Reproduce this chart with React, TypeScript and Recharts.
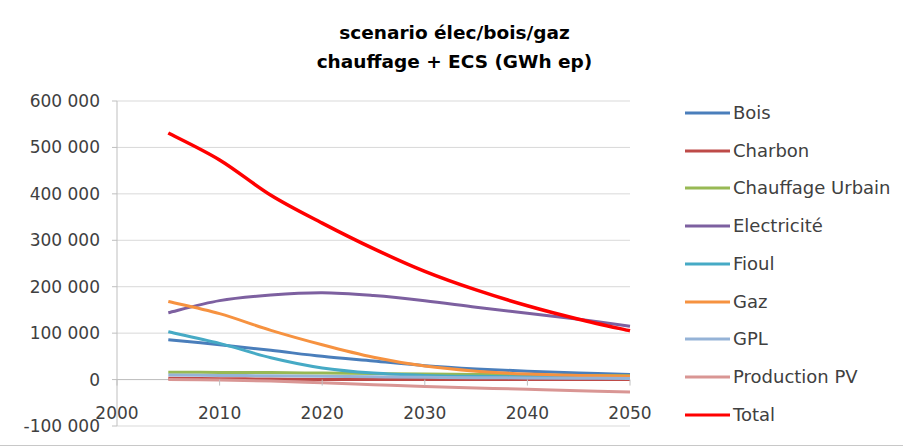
import React from "react";
import { LineChart, Line, XAxis, YAxis, CartesianGrid, ReferenceLine, Legend } from "recharts";

const years = [2005, 2010, 2015, 2020, 2025, 2030, 2035, 2040, 2045, 2050];
const bois = [86000, 75000, 63000, 50000, 40000, 30000, 23000, 18000, 14000, 11000];
const charbon = [3000, 2000, 1000, 0, 0, 0, 0, 0, 0, 0];
const chauffageUrbain = [16000, 15500, 15000, 14000, 13000, 12000, 11000, 10000, 9000, 8000];
const electricite = [144000, 170000, 182000, 187000, 181000, 170000, 156000, 143000, 130000, 115000];
const fioul = [103000, 78000, 47000, 25000, 14000, 9000, 7000, 6000, 5000, 4500];
const gaz = [168000, 142000, 106000, 75000, 48000, 29000, 18000, 12000, 9000, 7000];
const gpl = [10000, 9000, 8000, 7000, 6000, 5000, 4000, 3500, 3000, 2500];
const productionPV = [0, -1000, -3000, -7000, -11000, -15000, -18000, -21000, -24000, -27000];
const total = [531000, 473000, 397000, 337000, 282000, 233000, 193000, 159000, 130000, 105000];

const xTicks = [2000, 2010, 2020, 2030, 2040, 2050];
const yTicks = [-100000, 0, 100000, 200000, 300000, 400000, 500000, 600000];

const seriesDefs = [
  { key: "Bois", values: bois, color: "#4A7EBB" },
  { key: "Charbon", values: charbon, color: "#BE4B48" },
  { key: "Chauffage Urbain", values: chauffageUrbain, color: "#98B954" },
  { key: "Electricité", values: electricite, color: "#7D60A0" },
  { key: "Fioul", values: fioul, color: "#46AAC5" },
  { key: "Gaz", values: gaz, color: "#F69240" },
  { key: "GPL", values: gpl, color: "#95B3D7" },
  { key: "Production PV", values: productionPV, color: "#D99694" },
  { key: "Total", values: total, color: "#FF0000" },
];

const data = years.map((year, i) => {
  const row: Record<string, number> = { year };
  seriesDefs.forEach((s) => {
    row[s.key] = s.values[i];
  });
  return row;
});

const FONT = "'DejaVu Sans', sans-serif";
const W = 903;
const H = 448;
const M_TOP = 101;
const LEGEND_W = 218;
const M_RIGHT = 273 - LEGEND_W;
const M_BOTTOM = 21;
const X_AXIS_H = 1;
const PLOT_H = H - M_TOP - M_BOTTOM - X_AXIS_H;
const ZERO_OFFSET = PLOT_H / 7;

// Excel-like smoothed line (Catmull-Rom through the points)
const smoothCurve: any = (context: any) => {
  let pts: number[][] = [];
  return {
    areaStart() {},
    areaEnd() {},
    lineStart() {
      pts = [];
    },
    lineEnd() {
      if (!pts.length) return;
      context.moveTo(pts[0][0], pts[0][1]);
      for (let i = 0; i < pts.length - 1; i++) {
        const p0 = pts[Math.max(0, i - 1)];
        const p1 = pts[i];
        const p2 = pts[i + 1];
        const p3 = pts[Math.min(pts.length - 1, i + 2)];
        context.bezierCurveTo(
          p1[0] + (p2[0] - p0[0]) / 6,
          p1[1] + (p2[1] - p0[1]) / 6,
          p2[0] - (p3[0] - p1[0]) / 6,
          p2[1] - (p3[1] - p1[1]) / 6,
          p2[0],
          p2[1]
        );
      }
    },
    point(x: number, y: number) {
      pts.push([+x, +y]);
    },
  };
};

const fmt = (v: number) => {
  const s = Math.abs(v).toString().replace(/\B(?=(\d{3})+(?!\d))/g, " ");
  return (v < 0 ? "-" : "") + s;
};

const XTick = (props: any) => {
  const { x, y, payload } = props;
  const zeroY = y - ZERO_OFFSET;
  return (
    <g>
      <line x1={x} x2={x} y1={zeroY} y2={zeroY + 6} stroke="#bfbfbf" strokeWidth={1} />
      <text
        x={x}
        y={y - 13}
        textAnchor="middle"
        dominantBaseline="central"
        fontFamily={FONT}
        fontSize={17}
        fill="#404040"
      >
        {payload.value}
      </text>
    </g>
  );
};

const LegendContent = () => (
  <div style={{ fontFamily: FONT, fontSize: 18, color: "#404040", width: LEGEND_W }}>
    {seriesDefs.map((s) => (
      <div key={s.key} style={{ height: 37.75, display: "flex", alignItems: "center" }}>
        <svg width={48} height={6} style={{ display: "block" }}>
          <line x1={0} x2={45} y1={3} y2={3} stroke={s.color} strokeWidth={3} />
        </svg>
        <span style={{ whiteSpace: "nowrap", lineHeight: "20px" }}>{s.key}</span>
      </div>
    ))}
  </div>
);

export default function App() {
  return (
    <div style={{ position: "absolute", left: 0, top: 0, width: W, height: H, background: "#fff", overflow: "hidden" }}>
      <div
        style={{
          position: "absolute",
          left: 0,
          width: W,
          top: 18,
          textAlign: "center",
          paddingLeft: 3,
          fontFamily: FONT,
          fontWeight: "bold",
          fontSize: 18.5,
          lineHeight: "29px",
          color: "#000",
        }}
      >
        <div>scenario élec/bois/gaz</div>
        <div>chauffage + ECS (GWh ep)</div>
      </div>
      <div style={{ position: "absolute", left: 0, top: 0 }}>
        <LineChart
          width={W}
          height={H}
          data={data}
          margin={{ top: M_TOP, right: M_RIGHT, bottom: M_BOTTOM, left: 0 }}
        >
          <CartesianGrid vertical={false} stroke="#d9d9d9" strokeWidth={1} />
          <XAxis
            dataKey="year"
            type="number"
            domain={[2000, 2050]}
            ticks={xTicks}
            axisLine={false}
            tickLine={false}
            tickSize={0}
            tickMargin={0}
            height={X_AXIS_H}
            interval={0}
            tick={<XTick />}
          />
          <YAxis
            type="number"
            domain={[-100000, 600000]}
            ticks={yTicks}
            width={117}
            interval={0}
            tickFormatter={fmt}
            axisLine={{ stroke: "#bfbfbf" }}
            tickLine={{ stroke: "#bfbfbf" }}
            tickSize={5}
            tickMargin={12}
            tick={{ fontFamily: FONT, fontSize: 17, fill: "#404040" }}
          />
          <ReferenceLine y={0} stroke="#bfbfbf" strokeWidth={1} />
          {seriesDefs.map((s) => (
            <Line
              key={s.key}
              type={smoothCurve}
              dataKey={s.key}
              stroke={s.color}
              strokeWidth={s.key === "Total" ? 3.5 : 3}
              dot={false}
              activeDot={false}
              isAnimationActive={false}
            />
          ))}
          <Legend
            layout="vertical"
            verticalAlign="top"
            align="right"
            content={<LegendContent />}
            wrapperStyle={{ left: 685, top: 94, width: LEGEND_W, right: "auto" }}
          />
        </LineChart>
      </div>
      <div style={{ position: "absolute", left: 0, top: 445, width: W, height: 1, background: "#c8c8c8" }} />
    </div>
  );
}
